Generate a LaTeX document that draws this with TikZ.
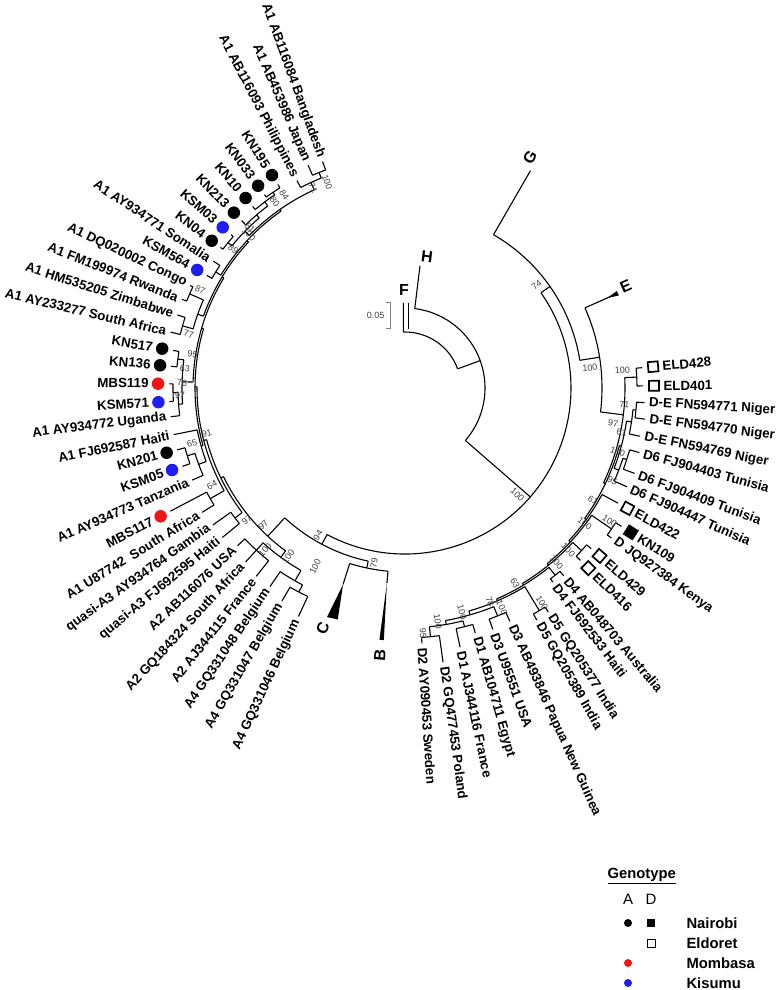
\documentclass[tikz,border=0pt]{standalone}
\usepackage{fontspec}
\setmainfont{Liberation Sans}
\definecolor{mred}{RGB}{240,20,20}
\definecolor{mblue}{RGB}{30,30,240}
\newcounter{lf}
\tikzset{
 lab/.style={font=\fontsize{13.3}{14}\selectfont\bfseries, inner sep=0pt},
 bs/.style={font=\fontsize{9}{10}\selectfont, text=black!75, inner sep=0pt},
 clab/.style={font=\fontsize{16}{18}\selectfont\bfseries, inner sep=0pt},
 legt/.style={font=\fontsize{14.8}{16}\selectfont\bfseries, inner sep=0pt, anchor=west},
 mdot/.style={circle, fill=#1, draw=none, minimum size=12.5pt, inner sep=0pt},
 msq/.style={draw=black, line width=1.7pt, fill=#1, minimum size=10pt, inner sep=0pt},
}
\newcommand\Rd[3]{\draw (#1:#2) -- (#1:#3);}
\newcommand\Ac[3]{\draw (#2:#1) arc[start angle=#2, end angle=#3, radius=#1pt];}
\newcommand\LL[4]{\Rd{#1}{#2}{#3}\pgfmathsetmacro\lbr{#3+4}\stepcounter{lf}%
 \node[lab,anchor=east,rotate=#1-180] (leaf\thelf) at (#1:\lbr) {#4};}
\newcommand\LD[5]{\Rd{#1}{#2}{#3}\pgfmathsetmacro\mkr{#3+11}\pgfmathsetmacro\lbr{#3+20}\stepcounter{lf}%
 \node[mdot=#5] (mk\thelf) at (#1:\mkr) {};
 \node[lab,anchor=east,rotate=#1-180] (leaf\thelf) at (#1:\lbr) {#4};}
\newcommand\RL[4]{\Rd{#1}{#2}{#3}\pgfmathsetmacro\lbr{#3+4}\stepcounter{lf}%
 \node[lab,anchor=west,rotate=#1] (leaf\thelf) at (#1:\lbr) {#4};}
\newcommand\RS[5]{\Rd{#1}{#2}{#3}\pgfmathsetmacro\mkr{#3+11}\pgfmathsetmacro\lbr{#3+20}\stepcounter{lf}%
 \node[msq=#5,rotate=#1] (mk\thelf) at (#1:\mkr) {};
 \node[lab,anchor=west,rotate=#1] (leaf\thelf) at (#1:\lbr) {#4};}
\newcommand\BL[3]{\node[bs,rotate=#1-180] at (#1:#2) {#3};}
\newcommand\BR[3]{\node[bs,rotate=#1] at (#1:#2) {#3};}
\begin{document}
\begin{tikzpicture}[x=1pt,y=1pt,line width=1.1pt,line cap=butt]
\useasboundingbox (-405,-602) rectangle (373,388);
% ---------- backbone ----------
\Ac{56}{20}{91.7}
\draw (91.7:56) -- (-1.7,85);
\draw (3.3,58.5) -- (3.3,85);
\Rd{20}{56}{80}
\Ac{80}{-41}{83}
\Rd{83}{80}{123}
\Rd{-41}{80}{166}
\Ac{166}{242}{395}
% G / E
\Rd{35}{166}{177}
\Ac{177}{9}{60}
\Rd{60}{177}{251}
\Rd{9}{177}{197}
\Ac{197}{-7}{24}
\Rd{24}{197}{224}
\fill (24:221) -- (23.4:233) -- (24.6:233) -- cycle;
% A / B / C
\Rd{242}{166}{177}
\Ac{177}{227.2}{258}
\Rd{258}{177}{184}
\Ac{184}{252.5}{264.7}
\Rd{252.5}{184}{206}
\fill (252.5:206) -- (251.2:242) -- (253.8:241) -- cycle;
\Rd{264.7}{184}{196}
\fill (264.7:196) -- (264.2:253) -- (265.2:253) -- cycle;
% ---------- A clade ----------
\Rd{227.2}{177}{202}\Ac{202}{206}{233.75}
\Rd{206}{202}{205}\Ac{205}{194.6}{217.4}
\Rd{217.4}{205}{214}\Ac{214}{215.5}{219.3}
\Rd{194.6}{205}{208}\Ac{208}{179.7}{209.6}
\Rd{209.6}{208}{224}\Ac{224}{207.7}{211.5}
\Rd{179.7}{208}{210}\Ac{210}{163.6}{195.9}
\Rd{195.9}{210}{212}\Ac{212}{191.4}{200.3}
\Rd{200.3}{212}{220}\Ac{220}{197.3}{203.4}
\Rd{197.3}{220}{228}\Ac{228}{195.2}{199.4}
\Rd{163.6}{210}{212}\Ac{212}{148.7}{178.4}
\Rd{178.4}{212}{223}\Ac{223}{172.75}{184.1}
\Rd{172.75}{223}{229}\Ac{229}{170.8}{174.7}
\Rd{184.1}{223}{227}\Ac{227}{181.15}{187}
\Rd{181.15}{227}{232}\Ac{232}{179}{183.3}
\Rd{148.7}{212}{214}\Ac{214}{137}{160.4}
\Rd{160.4}{214}{220}\Ac{220}{156.4}{164.4}
\Rd{156.4}{220}{235}\Ac{235}{154.5}{158.3}
\Rd{164.4}{220}{231}\Ac{231}{162.2}{166.6}
\Rd{137}{214}{216}\Ac{216}{125}{148.5}
\Rd{148.5}{216}{222}\Ac{222}{146.5}{150.4}
\Rd{125}{216}{218}\Ac{218}{114.6}{135.6}
\Rd{114.6}{218}{226}\Ac{226}{111.75}{117.5}
\Rd{111.75}{226}{232}\Ac{232}{110}{113.5}
\Rd{135.6}{218}{224}\Ac{224}{130.6}{140.6}
\Rd{140.6}{224}{229}\Ac{229}{138.6}{142.7}
\Rd{130.6}{224}{228}\Ac{228}{127}{134.3}
\Rd{127}{228}{233}\Ac{233}{124}{130}
\Rd{124}{233}{236}\Ac{236}{122}{126}
\Rd{233.75}{202}{210}\Ac{210}{227.5}{240.3}
\Rd{227.5}{210}{220}\Ac{220}{223.3}{231.7}
\Rd{240.3}{210}{222}\Ac{222}{235.8}{242.5}
\Rd{242.5}{222}{230}\Ac{230}{240}{245}
% leaves A
\LL{110}{232}{241}{A1 AB116084 Bangladesh}
\LL{113.5}{232}{243}{A1 AB453986 Japan}
\LL{117.5}{226}{234}{A1 AB116093 Philippines}
\LD{122}{236}{240}{KN195}{black}
\LD{126}{236}{239}{KN033}{black}
\LD{130}{233}{237}{KN10}{black}
\LD{134.3}{228}{234}{KN213}{black}
\LD{138.6}{229}{232}{KSM03}{mblue}
\LD{142.7}{229}{232}{KN04}{black}
\LL{146.5}{222}{230}{A1 AY934771 Somalia}
\LD{150.4}{222}{228}{KSM564}{mblue}
\LL{154.5}{235}{238}{A1 DQ020002 Congo}
\LL{158.3}{235}{240}{A1 FM199974 Rwanda}
\LL{162.2}{231}{239}{A1 HM535205 Zimbabwe}
\LL{166.6}{231}{241}{A1 AY233277 South Africa}
\LD{170.8}{229}{235}{KN517}{black}
\LD{174.7}{229}{235}{KN136}{black}
\LD{179}{232}{236}{MBS119}{mred}
\LD{183.3}{232}{236}{KSM571}{mblue}
\LL{187}{227}{236}{A1 AY934772 Uganda}
\LL{191.4}{212}{236}{A1 FJ692587 Haiti}
\LD{195.2}{228}{236}{KN201}{black}
\LD{199.4}{228}{236}{KSM05}{mblue}
\LL{203.4}{220}{232}{A1 AY934773 Tanzania}
\LD{207.7}{224}{265}{MBS117}{mred}
\LL{211.5}{224}{238}{A1 U87742\ \ South Africa}
\LL{215.5}{214}{236}{quasi-A3 AY934764 Gambia}
\LL{219.3}{214}{236}{quasi-A3 FJ692595 Haiti}
\LL{223.3}{220}{230}{A2 AB116076 USA}
\LL{227.5}{220}{236}{A2 GQ184324 South Africa}
\LL{231.7}{220}{240}{A2 AJ344115 France}
\LL{235.8}{222}{240}{A4 GQ331048 Belgium}
\LL{240}{230}{246}{A4 GQ331047 Belgium}
\LL{245}{230}{252}{A4 GQ331046 Belgium}
% ---------- D clade ----------
\Rd{353}{197}{220}\Ac{220}{334.5}{362.7}
\Rd{362.7}{220}{232}\Ac{232}{360.5}{364.9}
\Rd{334.5}{220}{222}\Ac{222}{324}{345}
\Rd{345}{222}{224}\Ac{224}{339}{351.5}
\Rd{351.5}{224}{229}\Ac{229}{348.4}{354.55}
\Rd{354.55}{229}{232}\Ac{232}{352.6}{356.5}
\Rd{339}{224}{229}\Ac{229}{336}{342.1}
\Rd{342.1}{229}{233}\Ac{233}{339.6}{344.6}
\Rd{324}{222}{224}\Ac{224}{317}{331.6}
\Rd{317}{224}{226}\Ac{226}{309}{325.7}
\Rd{325.7}{226}{250}\Ac{250}{324}{327.4}
\Rd{309}{226}{228}\Ac{228}{301}{317.35}
\Rd{317.35}{228}{240}\Ac{240}{315.5}{319.2}
\Rd{301}{228}{230}\Ac{230}{293.5}{308.75}
\Rd{308.75}{230}{240}\Ac{240}{307.3}{310.2}
\Rd{293.5}{230}{232}\Ac{232}{286}{301.1}
\Rd{301.1}{232}{260}\Ac{260}{299.6}{302.6}
\Rd{286}{232}{236}\Ac{236}{279.9}{292.1}
\Rd{292.1}{236}{246}\Ac{246}{290}{294.2}
\Rd{279.9}{236}{240}\Ac{240}{275.85}{284}
\Rd{284}{240}{246}\Ac{246}{282}{286}
\Rd{275.85}{240}{250}\Ac{250}{273.8}{277.9}
% leaves D
\RS{364.9}{232}{238}{ELD428}{white}
\RS{360.5}{232}{238}{ELD401}{white}
\RL{356.5}{232}{240}{D-E FN594771 Niger}
\RL{352.6}{232}{242}{D-E FN594770 Niger}
\RL{348.4}{229}{240}{D-E FN594769 Niger}
\RL{344.6}{233}{243}{D6 FJ904403 Tunisia}
\RL{339.6}{233}{245}{D6 FJ904409 Tunisia}
\RL{336}{229}{243}{D6 FJ904447 Tunisia}
\RS{331.6}{224}{242}{ELD422}{white}
\RS{327.4}{250}{257}{KN109}{black}
\RL{324}{250}{255}{D JQ927384 Kenya}
\RS{319.2}{240}{246}{ELD429}{white}
\RS{315.5}{240}{246}{ELD416}{white}
\RL{310.2}{240}{246}{D4 AB048703 Australia}
\RL{307.3}{240}{244}{D4 FJ692533 Haiti}
\RL{302.6}{260}{266}{D5 GQ205377 India}
\RL{299.6}{260}{267}{D5 GQ205389 India}
\RL{294.2}{246}{256}{D3 AB493846 Papua New Guinea}
\RL{290}{246}{257}{D3 U95551 USA}
\RL{286}{246}{255}{D1 AB104711 Egypt}
\RL{282}{246}{265}{D1 AJ344116 France}
\RL{277.9}{250}{277}{D2 GQ477453 Poland}
\RL{273.8}{250}{256}{D2 AY090453 Sweden}
% ---------- bootstrap values ----------
\BL{110.7}{220}{100}\BL{114.7}{220}{71}\BL{122}{228}{84}\BL{125}{227}{80}
\BL{134}{223}{81}\BL{135.5}{219}{100}\BL{141}{221}{89}
\BL{154.4}{227}{87}\BL{166}{223}{77}\BL{171}{215}{95}\BL{175}{221}{63}
\BL{178.7}{223}{76}\BL{181.8}{225}{97}\BL{193}{203.5}{91}\BL{194.5}{220}{65}
\BL{206.7}{216}{64}\BL{219.9}{206}{97}\BL{224}{197}{97}\BL{229.2}{214}{100}
\BL{235.3}{205}{100}\BL{243.3}{200}{100}\BL{239.4}{171}{94}\BL{260}{178}{79}
\BR{38}{167}{74}\BR{316.5}{155}{100}\BR{6.2}{186}{100}\BR{350.4}{211}{97}
\BR{4.7}{218}{100}\BR{355.6}{220}{71}\BR{348.5}{221}{61}\BR{343.3}{222}{100}
\BR{336}{227}{95}\BR{329.2}{219}{61}\BR{323}{225}{100}\BR{327}{244}{100}
\BR{315.2}{230}{100}\BR{311}{231}{100}\BR{299.4}{224}{63}\BR{302.5}{255}{100}
\BR{291.7}{230}{78}\BR{293.8}{240}{100}\BR{284.3}{231}{100}\BR{278}{236}{100}
\BR{274.2}{246}{95}
% ---------- clade labels ----------
\node[clab] (labF) at (-1,98) {F};
\node[clab,rotate=-7] (labH) at (22,131) {H};
\node[clab,rotate=60] (labG) at (61.5:262) {G};
\node[clab,rotate=24] (labE) at (24.7:243) {E};
\node[clab,rotate=71] (labC) at (251.1:254) {C};
\node[clab,rotate=85] (labB) at (264.6:268) {B};
% scale bar
\draw[gray,line width=0.8pt] (-19,86) -- (-15,86) -- (-15,60) -- (-19,60);
\node[bs,anchor=east] (sc) at (-20,73) {0.05};
% ---------- legend ----------
\node[legt] (gt) at (202,-488) {\underline{Genotype}};
\node[font=\fontsize{15}{16}\selectfont,inner sep=0pt] (lA) at (223,-511) {A};
\node[font=\fontsize{15}{16}\selectfont,inner sep=0pt] (lD) at (246,-511) {D};
\node[circle,fill=black,minimum size=8pt,inner sep=0pt] (ka) at (223,-535) {};
\node[fill=black,minimum size=8.5pt,inner sep=0pt] (kd) at (246,-535) {};
\node[legt] (tn) at (281,-535) {Nairobi};
\node[draw=black,line width=1pt,minimum size=8pt,inner sep=0pt] (ed) at (246,-555) {};
\node[legt] (te) at (281,-555) {Eldoret};
\node[circle,fill=mred,minimum size=8pt,inner sep=0pt] (ma) at (223,-575) {};
\node[legt] (tm) at (281,-575) {Mombasa};
\node[circle,fill=mblue,minimum size=8pt,inner sep=0pt] (ua) at (223,-595) {};
\node[legt] (tk) at (281,-595) {Kisumu};
\end{tikzpicture}
\end{document}
